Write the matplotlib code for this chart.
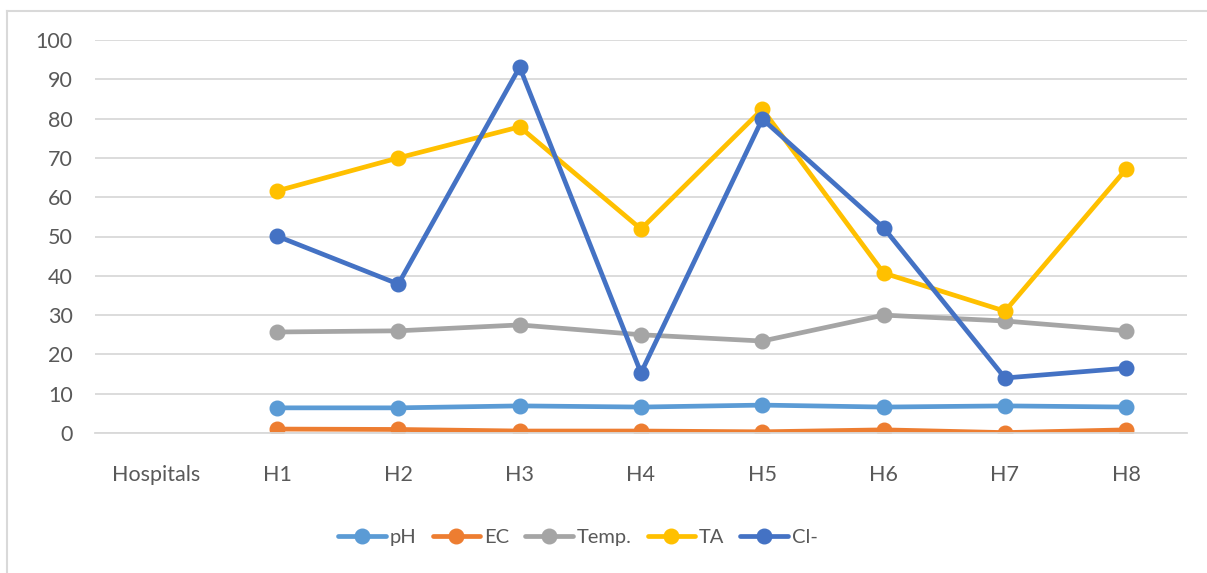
import matplotlib.pyplot as plt
from matplotlib.lines import Line2D
import numpy as np

plt.rcParams['font.family'] = ['Lato', 'DejaVu Sans']

categories = ["Hospitals", "H1", "H2", "H3", "H4", "H5", "H6", "H7", "H8"]
nan = np.nan
ph = [nan, 6.4, 6.4, 6.9, 6.6, 7.1, 6.6, 6.9, 6.6]
ec = [nan, 1.0, 0.9, 0.5, 0.5, 0.3, 0.8, 0.1, 0.8]
temp = [nan, 25.7, 26.0, 27.5, 25.0, 23.4, 30.0, 28.5, 26.0]
ta = [nan, 61.6, 70.0, 77.9, 51.9, 82.4, 40.7, 31.0, 67.2]
cl = [nan, 50.1, 37.9, 93.1, 15.3, 79.9, 52.2, 14.0, 16.5]

series = [("pH", ph, "#5b9bd5"),
          ("EC", ec, "#ed7d31"),
          ("Temp.", temp, "#a5a5a5"),
          ("TA", ta, "#ffc000"),
          ("Cl-", cl, "#4472c4")]

fig = plt.figure(figsize=(12.07, 5.73), dpi=100)
# chart area frame, only the left and top edges are inside the crop
fx, fy = 6.5 / 1207, 1 - 11 / 573
fig.add_artist(Line2D([fx, fx], [0, fy], transform=fig.transFigure,
                      color="#d9d9d9", lw=1.5))
fig.add_artist(Line2D([fx, 1], [fy, fy], transform=fig.transFigure,
                      color="#d9d9d9", lw=1.5))

ax = fig.add_axes([95/1207, 1 - 433/573, 1092/1207, 393/573])

x = np.arange(len(categories))
for name, vals, col in series:
    ax.plot(x, vals, color=col, lw=3.4, marker="o", markersize=10.5, label=name,
            solid_capstyle="round")

ax.set_xlim(-0.5, len(categories) - 0.5)
ax.set_ylim(0, 100)
ax.set_yticks(range(0, 101, 10))
ax.set_xticks(x)
ax.set_xticklabels(categories)
ax.grid(axis="y", color="#d9d9d9", lw=1.3)
ax.set_axisbelow(True)
for s in ["top", "right", "left"]:
    ax.spines[s].set_visible(False)
ax.spines["bottom"].set_color("#d9d9d9")
ax.spines["bottom"].set_linewidth(1.3)
ax.tick_params(axis="both", length=0, labelsize=15.5, colors="#595959")
ax.tick_params(axis="x", pad=23)
ax.tick_params(axis="y", pad=16)

leg = fig.legend(loc="center", bbox_to_anchor=(578/1207, 1 - 537/573), ncol=5,
                 frameon=False, fontsize=14.5, handlelength=2.35, handletextpad=0.2,
                 columnspacing=0.8, numpoints=1)
for t in leg.get_texts():
    t.set_color("#595959")

fig.savefig("out.png", dpi=100)
